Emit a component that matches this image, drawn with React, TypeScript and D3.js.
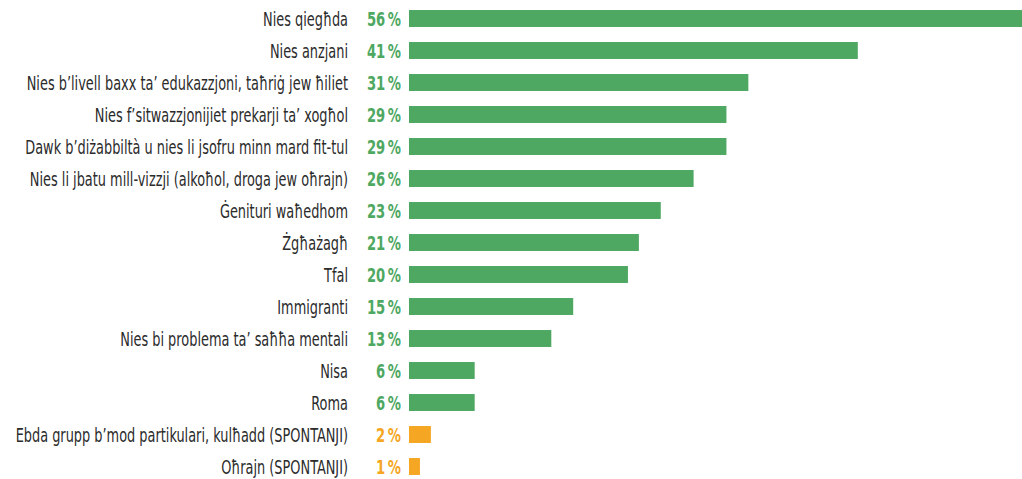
import React from "react";
import * as d3 from "d3";

const categories = [
  "Nies qiegħda",
  "Nies anzjani",
  "Nies b’livell baxx ta’ edukazzjoni, taħriġ jew ħiliet",
  "Nies f’sitwazzjonijiet prekarji ta’ xogħol",
  "Dawk b’diżabbiltà u nies li jsofru minn mard fit-tul",
  "Nies li jbatu mill-vizzji (alkoħol, droga jew oħrajn)",
  "Ġenituri waħedhom",
  "Żgħażagħ",
  "Tfal",
  "Immigranti",
  "Nies bi problema ta’ saħħa mentali",
  "Nisa",
  "Roma",
  "Ebda grupp b’mod partikulari, kulħadd (SPONTANJI)",
  "Oħrajn (SPONTANJI)",
];
const values = [56, 41, 31, 29, 29, 26, 23, 21, 20, 15, 13, 6, 6, 2, 1];
const spontaneous = [false, false, false, false, false, false, false, false, false, false, false, false, false, true, true];

const GREEN = "#4EA862";
const ORANGE = "#F5A623";
const W = 1022;
const H = 479;

export default function App() {
  const y = d3
    .scaleBand<string>()
    .domain(categories)
    .range([2.5, 482.5])
    .paddingInner(0.47)
    .paddingOuter(0.235);
  const x = d3.scaleLinear().domain([0, 56]).range([409, 1022]);
  const font = "'DejaVu Sans Condensed', 'Liberation Sans Narrow', sans-serif";
  return (
    <svg
      width={W}
      height={H}
      style={{ position: "absolute", left: 0, top: 0, background: "#fff" }}
    >
      {categories.map((c, i) => {
        const yc = (y(c) as number) + y.bandwidth() / 2;
        const col = spontaneous[i] ? ORANGE : GREEN;
        return (
          <g key={c}>
            <text
              transform={`translate(348,${yc}) scale(0.755,1)`}
              dy="0.41em"
              textAnchor="end"
              fontFamily={font}
              fontSize={19}
              fill="#2b2b2b"
            >
              {c}
            </text>
            <text
              transform={`translate(401,${yc}) scale(0.77,1)`}
              dy="0.41em"
              textAnchor="end"
              fontFamily={font}
              fontWeight="bold"
              fontSize={19}
              fill={col}
            >
              {values[i]}
              {"\u2009%"}
            </text>
            <rect
              x={x(0)}
              y={y(c) as number}
              width={x(values[i]) - x(0)}
              height={y.bandwidth()}
              fill={col}
            />
          </g>
        );
      })}
    </svg>
  );
}
